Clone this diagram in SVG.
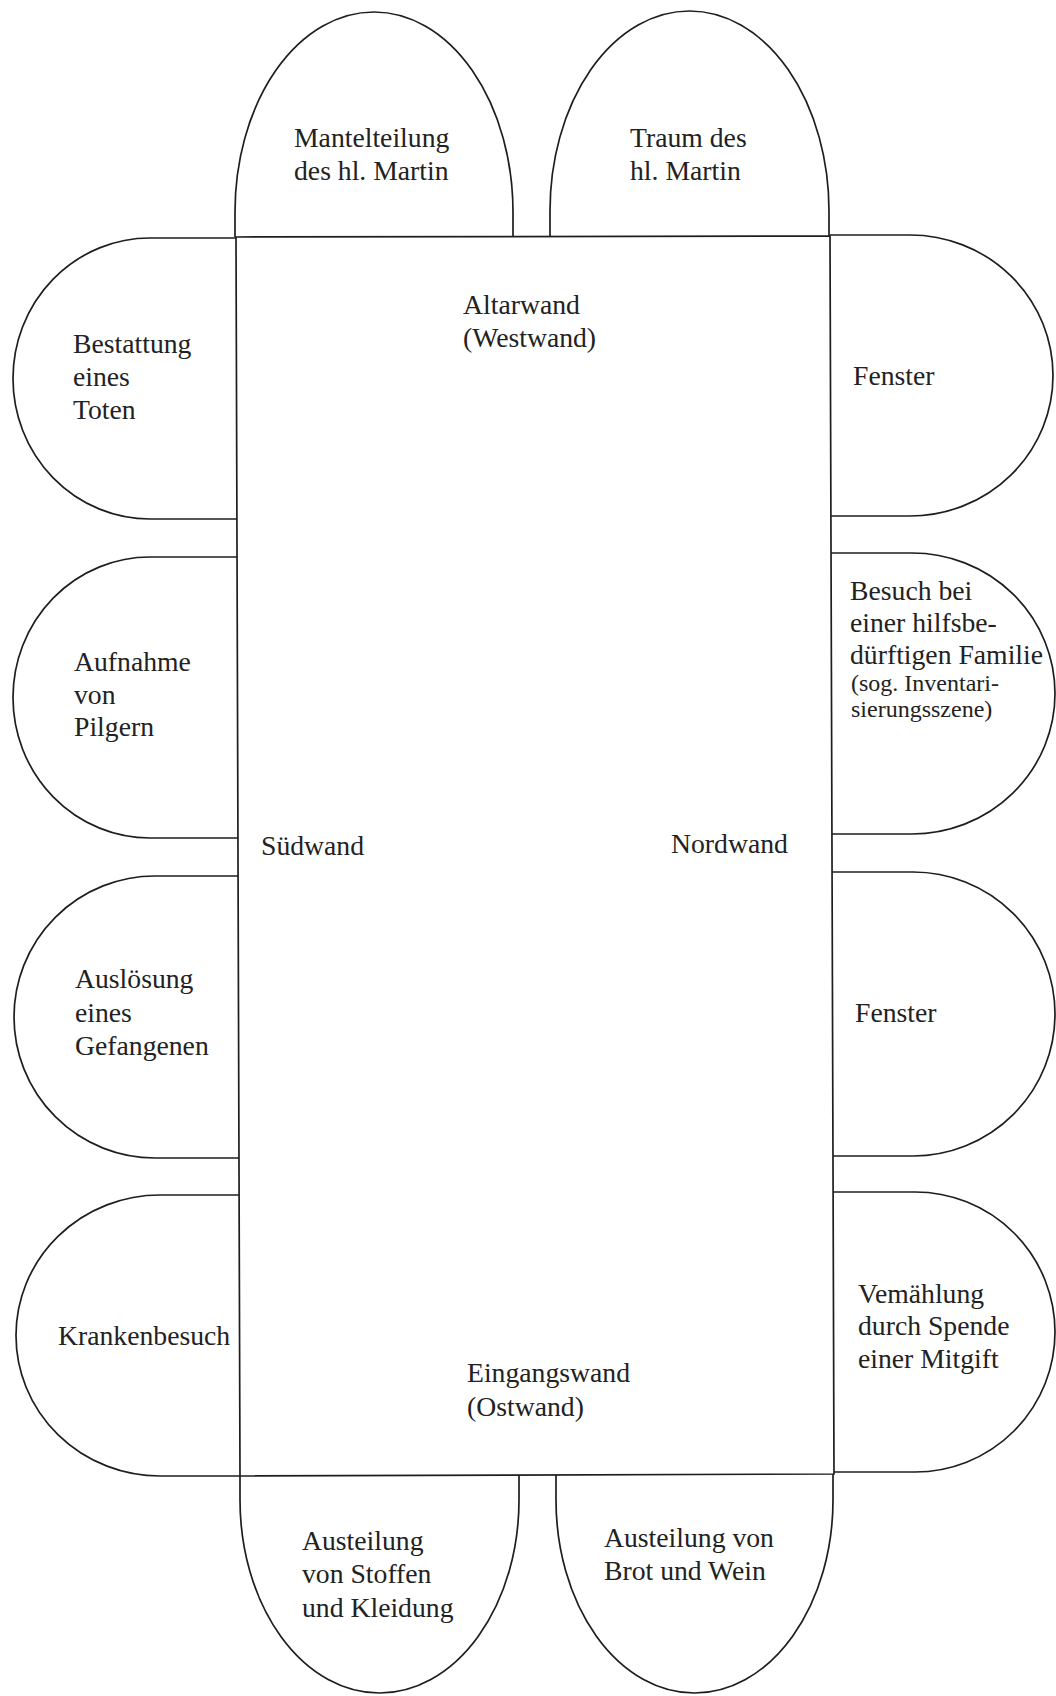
<svg xmlns="http://www.w3.org/2000/svg" width="1056" height="1696" viewBox="0 0 1056 1696">
<style>
.s{fill:none;stroke:#1e1e1e;stroke-width:1.7}
text{font-family:"Liberation Serif","Times New Roman",serif;font-size:27.7px;fill:#222}
.sm{font-size:24px}
</style>
<rect width="1056" height="1696" fill="#ffffff"/>
<g id="nave">
<path class="s" d="M236 237 L830 236 L834 1474 L240 1476 Z"/>
<text x="463" y="314">Altarwand</text>
<text x="463" y="347">(Westwand)</text>
<text x="261" y="855">Südwand</text>
<text x="671" y="853">Nordwand</text>
<text x="467" y="1382">Eingangswand</text>
<text x="467" y="1416">(Ostwand)</text>
</g>
<g id="top1">
<path class="s" d="M235 237 V212 A139 200 0 0 1 513 212 V237"/>
<text x="294" y="147">Mantelteilung</text>
<text x="294" y="180">des hl. Martin</text>
</g>
<g id="top2">
<path class="s" d="M550 236 V211 A139.5 200 0 0 1 829 211 V236"/>
<text x="630" y="147">Traum des</text>
<text x="630" y="180">hl. Martin</text>
</g>
<g id="left1">
<path class="s" d="M236 238 H150 A137 140.5 0 0 0 150 519 H237"/>
<text x="73" y="353">Bestattung</text>
<text x="73" y="386">eines</text>
<text x="73" y="419">Toten</text>
</g>
<g id="left2">
<path class="s" d="M237 557 H150 A137 140.5 0 0 0 150 838 H238"/>
<text x="74" y="671">Aufnahme</text>
<text x="74" y="704">von</text>
<text x="74" y="736">Pilgern</text>
</g>
<g id="left3">
<path class="s" d="M238 876 H155 A141 141 0 0 0 155 1158 H239"/>
<text x="75" y="988">Auslösung</text>
<text x="75" y="1022">eines</text>
<text x="75" y="1055">Gefangenen</text>
</g>
<g id="left4">
<path class="s" d="M239 1195 H160 A144 140.5 0 0 0 160 1476 H240"/>
<text x="58" y="1345">Krankenbesuch</text>
</g>
<g id="right1">
<path class="s" d="M830 235 H910 A143 140.5 0 0 1 910 516 H831"/>
<text x="853" y="385">Fenster</text>
</g>
<g id="right2">
<path class="s" d="M831 553 H912 A143 140.5 0 0 1 912 834 H832"/>
<text x="850" y="600">Besuch bei</text>
<text x="850" y="632">einer hilfsbe-</text>
<text x="850" y="664">dürftigen Familie</text>
<text class="sm" x="851" y="691">(sog. Inventari-</text>
<text class="sm" x="851" y="717">sierungsszene)</text>
</g>
<g id="right3">
<path class="s" d="M832 872 H913 A142 142 0 0 1 913 1156 H833"/>
<text x="855" y="1022">Fenster</text>
</g>
<g id="right4">
<path class="s" d="M833 1192 H915 A140 140 0 0 1 915 1472 H834"/>
<text x="858" y="1303">Vemählung</text>
<text x="858" y="1335">durch Spende</text>
<text x="858" y="1368">einer Mitgift</text>
</g>
<g id="bottom1">
<path class="s" d="M240 1476 V1500 A139.5 193 0 0 0 519 1500 V1475"/>
<text x="302" y="1550">Austeilung</text>
<text x="302" y="1583">von Stoffen</text>
<text x="302" y="1617">und Kleidung</text>
</g>
<g id="bottom2">
<path class="s" d="M556 1475 V1500 A138.5 193 0 0 0 833 1500 V1474"/>
<text x="604" y="1547">Austeilung von</text>
<text x="604" y="1580">Brot und Wein</text>
</g>
<g id="connectors"></g>
</svg>
